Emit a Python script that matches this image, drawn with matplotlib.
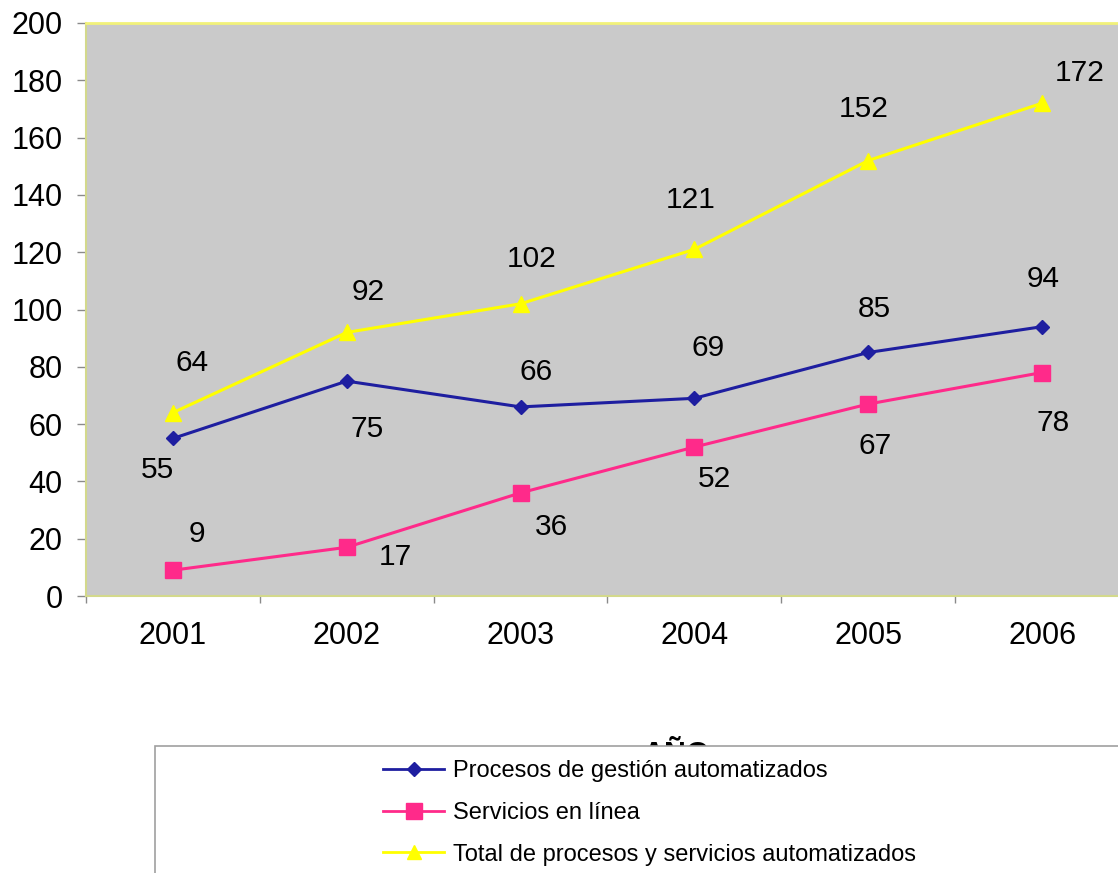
import matplotlib
matplotlib.use('Agg')
import matplotlib.pyplot as plt
from matplotlib.lines import Line2D
from matplotlib.patches import Rectangle
import numpy as np

plt.rcParams['font.family'] = ['Liberation Sans', 'DejaVu Sans']

# data
years = ['2001', '2002', '2003', '2004', '2005', '2006']
procesos = [55, 75, 66, 69, 85, 94]
servicios = [9, 17, 36, 52, 67, 78]
total = [64, 92, 102, 121, 152, 172]

labels = ['Procesos de gestión automatizados',
          'Servicios en línea',
          'Total de procesos y servicios automatizados']

# label placement (pixel offsets from each point, +y is up)
procesos_off = [(-15, -40), (20, -56), (16, 27), (14, 42), (6, 35), (1, 40)]
servicios_off = [(24, 28), (49, -18), (31, -42), (20, -40), (7, -50), (11, -58)]
total_off = [(19, 42), (21, 32), (11, 37), (-4, 41), (-5, 44), (38, 22)]

c_blue = '#1E1EA0'
c_pink = '#FF2A8A'
c_yellow = '#FFFF00'

W, H = 1118, 873
fig = plt.figure(figsize=(W / 100, H / 100), dpi=100)
fig.patch.set_facecolor('white')

# plot area runs past the right edge of the picture
ax = fig.add_axes([86 / W, (H - 596) / H, 1043 / W, 573 / H])
ax.set_facecolor('#CACACA')

x = np.arange(len(years))
ax.plot(x, total, color=c_yellow, lw=2.2, marker='^', ms=11, zorder=3)
ax.plot(x, procesos, color=c_blue, lw=2.2, marker='D', ms=7.5, zorder=4)
ax.plot(x, servicios, color=c_pink, lw=2.2, marker='s', ms=11, zorder=4)

for vals, offs in [(total, total_off), (procesos, procesos_off), (servicios, servicios_off)]:
    for i, v in enumerate(vals):
        ax.annotate(str(v), (x[i], v), xytext=offs[i], textcoords='offset pixels',
                    ha='center', va='baseline', fontsize=21.5, color='black')

ax.set_xlim(-0.5, len(years) - 0.5)
ax.set_ylim(0, 200)
ax.set_yticks(np.arange(0, 201, 20))
ax.set_xticks(x)
ax.set_xticklabels(years)
ax.set_xticks(np.arange(-0.5, len(years), 1.0), minor=True)

ax.tick_params(axis='y', direction='out', length=6.5, width=1, color='#8A8A8A',
               labelsize=22, pad=10.5)
ax.tick_params(axis='x', which='major', length=0, labelsize=22, pad=18)
ax.tick_params(axis='x', which='minor', direction='out', length=5, width=1, color='#8A8A8A')

for s in ['left', 'bottom']:
    ax.spines[s].set_color('#D3D98C')
    ax.spines[s].set_linewidth(1.5)
ax.spines['top'].set_color('#F2F27A')
ax.spines['top'].set_linewidth(2)
ax.spines['right'].set_visible(False)

# axis title, partly hidden by the legend box
fig.text(676 / W, (H - 764) / H, 'AÑO', ha='center', va='baseline',
         fontsize=22, fontweight='bold', zorder=2)

box = Rectangle((155 / W, -0.05), 0.9, (H - 746) / H + 0.05, transform=fig.transFigure,
                facecolor='white', edgecolor='#A0A0A0', lw=1.2, zorder=4)
fig.patches.append(box)

handles = [
    Line2D([], [], color=c_blue, lw=2, marker='D', ms=7.5),
    Line2D([], [], color=c_pink, lw=2, marker='s', ms=11),
    Line2D([], [], color=c_yellow, lw=2, marker='^', ms=10),
]
leg = fig.legend(handles, labels, loc='upper left', bbox_to_anchor=(383 / W, (H - 760) / H),
                 frameon=False, fontsize=17, handlelength=2.6, handletextpad=0.35,
                 labelspacing=0.84, borderpad=0, borderaxespad=0)
leg.set_zorder(5)

fig.savefig('out.png', dpi=100)
